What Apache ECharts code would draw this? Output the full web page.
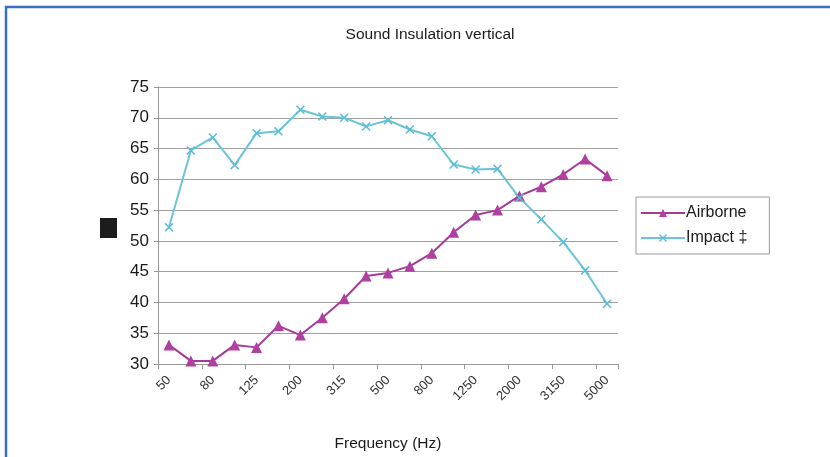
<!DOCTYPE html>
<html><head><meta charset="utf-8">
<script src="https://cdn.jsdelivr.net/npm/echarts@6/dist/echarts.min.js"></script>
<style>html,body{margin:0;padding:0;background:#fff}#c{width:830px;height:457px}</style>
</head><body><div id="c"></div>
<script>
const categories = ['50','63','80','100','125','160','200','250','315','400','500','630','800','1000','1250','1600','2000','2500','3150','4000','5000'];
const airborne = [33.1,30.5,30.5,33.1,32.7,36.2,34.7,37.5,40.6,44.3,44.8,45.9,48.0,51.4,54.2,55.0,57.3,58.8,60.8,63.3,60.6];
const impact = [52.2,64.7,66.8,62.3,67.5,67.8,71.3,70.2,70.0,68.6,69.6,68.1,67.0,62.4,61.6,61.7,57.0,53.5,49.8,45.2,39.8];
const yTicks = [30,35,40,45,50,55,60,65,70,75];

const chart = echarts.init(document.getElementById('c'));
const F = 'Liberation Sans, Arial, sans-serif';
const xMark = 'path://M0,1.2L1.2,0L5,3.8L8.8,0L10,1.2L6.2,5L10,8.8L8.8,10L5,6.2L1.2,10L0,8.8L3.8,5Z';
chart.setOption({
  backgroundColor: '#fff',
  animation: false,
  title: {
    text: 'Sound Insulation vertical', left: 425, top: 22, textAlign: 'center',
    textStyle: {fontFamily: F, fontSize: 15.5, fontWeight: 'normal', color: '#1a1a1a'}
  },
  legend: {
    orient: 'vertical', left: 636, top: 197, width: 129,
    padding: [8, 22, 8, 4], itemGap: 9, itemWidth: 44, itemHeight: 10,
    borderColor: '#999', borderWidth: 1,
    textStyle: {fontFamily: F, fontSize: 16, color: '#1a1a1a', padding: [0,0,0,-4]},
    data: [{name: 'Airborne'}, {name: 'Impact ‡'}]
  },
  grid: {left: 158, right: 212, top: 87, bottom: 91, containLabel: false},
  xAxis: {
    type: 'category', data: categories, boundaryGap: true,
    name: 'Frequency (Hz)', nameLocation: 'middle', nameGap: 72,
    nameTextStyle: {fontFamily: F, fontSize: 15.5, color: '#1a1a1a'},
    axisLine: {lineStyle: {color: '#999'}},
    axisTick: {show: true, alignWithLabel: false, lineStyle: {color: '#999'}},
    axisLabel: {interval: 1, rotate: 45, fontFamily: F, fontSize: 13, color: '#333', margin: 14}
  },
  yAxis: {
    type: 'value', min: yTicks[0], max: yTicks[yTicks.length-1], interval: 5,
    axisLine: {show: true, lineStyle: {color: '#999'}},
    axisTick: {show: true, length: 4, lineStyle: {color: '#999'}},
    axisLabel: {fontFamily: F, fontSize: 17, color: '#1a1a1a', margin: 9},
    splitLine: {lineStyle: {color: '#a0a0a0', width: 1}}
  },
  series: [
    {
      name: 'Airborne', type: 'line', data: airborne,
      symbol: 'triangle', symbolSize: 11,
      lineStyle: {color: '#a53a9b', width: 2},
      itemStyle: {color: '#b0409f'}
    },
    {
      name: 'Impact ‡', type: 'line', data: impact,
      symbol: xMark, symbolSize: 9,
      lineStyle: {color: '#6cc4da', width: 2},
      itemStyle: {color: '#5cbcd6'}
    }
  ],
  graphic: [
    {type: 'rect', shape: {x: 6, y: 7, width: 830, height: 460}, style: {fill: 'none', stroke: '#3a6fbf', lineWidth: 2.5}, z: 10},
    {type: 'rect', shape: {x: 100, y: 218, width: 17, height: 20}, style: {fill: '#1c1c1c'}}
  ]
});
</script></body></html>
